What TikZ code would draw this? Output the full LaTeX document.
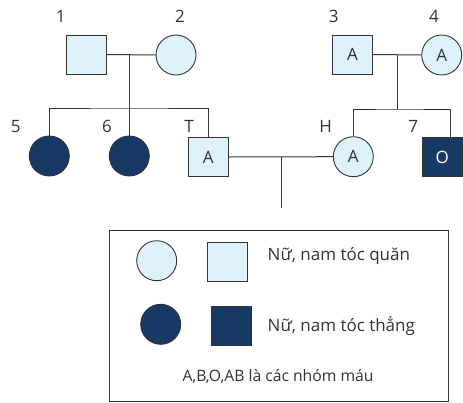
\documentclass[tikz,border=0pt]{standalone}
\usepackage{fontspec}
\setmainfont{Open Sans}
\definecolor{lightc}{HTML}{DDF2FA}
\definecolor{darkc}{HTML}{173A65}
\definecolor{linec}{HTML}{333333}
\begin{document}
\begin{tikzpicture}[x=1pt,y=-1pt,
  every node/.style={text=linec},
  fem/.style={circle,draw=linec,line width=0.9pt,minimum size=40pt,inner sep=0pt,font=\fontsize{17}{19}\selectfont},
  mal/.style={rectangle,draw=linec,line width=0.9pt,minimum width=40pt,minimum height=39pt,inner sep=0pt,font=\fontsize{17}{19}\selectfont},
  lt/.style={fill=lightc},
  dk/.style={fill=darkc,text=white},
  lbl/.style={font=\fontsize{17}{19}\selectfont,inner sep=0pt},
  legtxt/.style={inner sep=0pt,font=\fontsize{17}{19}\selectfont},
  conn/.style={draw=linec,line width=1pt}]
\useasboundingbox (0,0) rectangle (463,402);
% generation I
\node[mal,lt] (p1) at (86.7,54.5) {};
\node[fem,lt] (p2) at (176,55) {};
\node[mal,lt] (p3) at (352.5,54.5) {A};
\node[fem,lt] (p4) at (441.7,55) {A};
% generation II
\node[fem,dk] (p5) at (49.3,156) {};
\node[fem,dk] (p6) at (129.3,156) {};
\node[mal,lt] (pT) at (208.3,157) {A};
\node[fem,lt] (pH) at (353.3,156.7) {A};
\node[mal,dk] (p7) at (442.3,157.3) {O};
% labels
\node[lbl] (l1) at (60.7,16.5) {1};
\node[lbl] (l2) at (180,16.5) {2};
\node[lbl] (l3) at (333.7,16.5) {3};
\node[lbl] (l4) at (434,16.5) {4};
\node[lbl] (l5) at (15.7,126.7) {5};
\node[lbl] (l6) at (107,126.7) {6};
\node[lbl] (lT) at (189,126.7) {T};
\node[lbl] (lH) at (325.7,126.7) {H};
\node[lbl] (l7) at (413.3,126.7) {7};
% connectors family 1
\coordinate (m12) at (129,54.5);
\coordinate (b1) at (129,108);
\draw[conn] (p1.east) -- (p2.west);
\draw[conn] (m12) -- (b1);
\draw[conn] (p5.north) |- (b1) -| (pT.north);
\draw[conn] (p6.north) -- (p6.north |- b1);
% connectors family 2
\coordinate (m34) at (397.3,54.5);
\coordinate (b2) at (397.3,109);
\coordinate (t7) at (450,137.8);
\draw[conn] (p3.east) -- (p4.west);
\draw[conn] (m34) -- (b2);
\draw[conn] (pH.north) |- (b2) -| (t7);
% couple T-H
\coordinate (mTH) at (281.7,157);
\coordinate (ch) at (281.7,208.3);
\draw[conn] (pT.east) -- (pH.west);
\draw[conn] (mTH) -- (ch);
% legend
\node[draw=linec,line width=0.9pt,minimum width=339pt,minimum height=171pt,inner sep=0pt,anchor=north west] (leg) at (109,230) {};
\node[fem,lt] (lg1) at (156.7,260.7) {};
\node[mal,lt] (lg2) at (227,262) {};
\node[fem,dk] (lg3) at (160.7,324.3) {};
\node[mal,dk] (lg4) at (231,326.3) {};
\node[legtxt,anchor=west] (t1) at (267.5,256) {Nữ, nam tóc quăn};
\node[legtxt,anchor=west] (t2) at (267.5,326) {Nữ, nam tóc thẳng};
\node[legtxt,font=\fontsize{15.7}{18}\selectfont] (t3) at (278,376.7) {A,B,O,AB là các nhóm máu};
\end{tikzpicture}
\end{document}
